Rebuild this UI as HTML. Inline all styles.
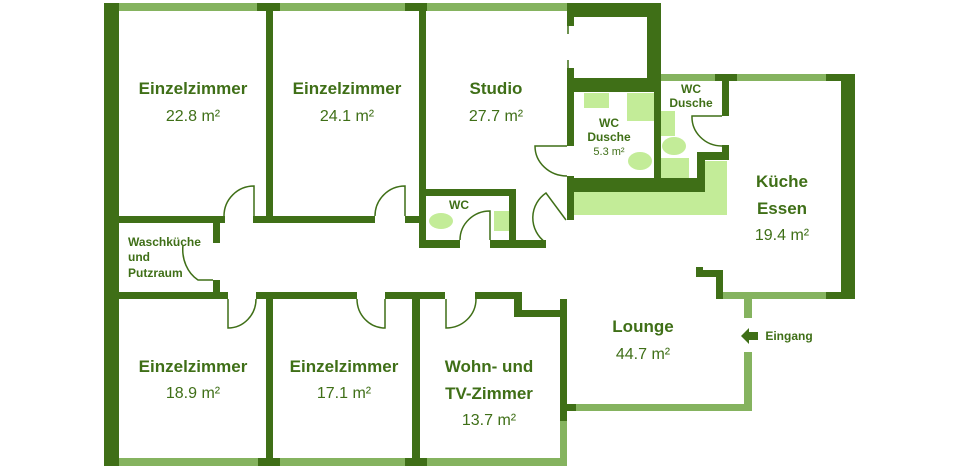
<!DOCTYPE html>
<html><head><meta charset="utf-8"><style>
html,body{margin:0;padding:0;background:#fff}
svg{display:block}
text{font-family:"Liberation Sans",sans-serif;fill:#3f6f17;text-anchor:middle}
.b{font-weight:bold}
</style></head><body>
<svg width="959" height="470" viewBox="0 0 959 470" xmlns="http://www.w3.org/2000/svg">
<g fill="#c3ec98">
<rect x="574" y="192" width="153" height="23"/>
<rect x="705" y="161" width="22" height="31"/>
<rect x="584" y="93" width="25" height="15"/>
<rect x="627" y="93" width="27" height="28"/>
<ellipse cx="640" cy="161" rx="12" ry="9"/>
<rect x="661" y="111" width="14" height="25"/>
<ellipse cx="674" cy="146" rx="12" ry="9"/>
<rect x="661" y="158" width="28" height="27"/>
<rect x="494" y="211" width="15" height="20"/>
<ellipse cx="441" cy="221" rx="12" ry="8"/>
</g>
<g fill="#85b35f">
<rect x="118" y="3" width="449" height="8"/>
<rect x="661" y="74" width="180" height="7"/>
<rect x="716" y="292" width="125" height="7"/>
<rect x="744" y="299" width="8" height="19"/>
<rect x="744" y="352" width="8" height="59"/>
<rect x="567" y="404" width="185" height="7"/>
<rect x="560" y="421" width="7" height="45"/>
<rect x="104" y="458" width="463" height="8"/>
</g>
<g fill="#3f6f17">
<rect x="104" y="3" width="15" height="463"/>
<rect x="257" y="3" width="23" height="8"/>
<rect x="405" y="3" width="22" height="8"/>
<rect x="266" y="3" width="7" height="220"/>
<rect x="419" y="3" width="7" height="245"/>
<rect x="567" y="3" width="94" height="14"/>
<rect x="567" y="3" width="7" height="23"/>
<rect x="567" y="68" width="7" height="78"/>
<rect x="647" y="3" width="14" height="89"/>
<rect x="567" y="78" width="94" height="14"/>
<rect x="654" y="78" width="7" height="107"/>
<rect x="567" y="176" width="7" height="44"/>
<rect x="567" y="178" width="138" height="14"/>
<rect x="697" y="152" width="8" height="40"/>
<rect x="697" y="152" width="32" height="8"/>
<rect x="722" y="145" width="7" height="15"/>
<rect x="722" y="81" width="7" height="35"/>
<rect x="715" y="74" width="22" height="7"/>
<rect x="826" y="74" width="29" height="7"/>
<rect x="841" y="74" width="14" height="225"/>
<rect x="826" y="292" width="29" height="7"/>
<rect x="696" y="267" width="7" height="10"/>
<rect x="696" y="270" width="27" height="7"/>
<rect x="716" y="270" width="7" height="29"/>
<rect x="118" y="216" width="107" height="7"/>
<rect x="253" y="216" width="122" height="7"/>
<rect x="405" y="216" width="15" height="7"/>
<rect x="213" y="216" width="7" height="27"/>
<rect x="213" y="280" width="7" height="19"/>
<rect x="420" y="189" width="96" height="7"/>
<rect x="509" y="189" width="7" height="59"/>
<rect x="420" y="240" width="40" height="8"/>
<rect x="490" y="240" width="56" height="8"/>
<rect x="118" y="292" width="110" height="7"/>
<rect x="256" y="292" width="101" height="7"/>
<rect x="385" y="292" width="60" height="7"/>
<rect x="475" y="292" width="47" height="7"/>
<rect x="514" y="292" width="8" height="25"/>
<rect x="514" y="310" width="53" height="7"/>
<rect x="560" y="299" width="7" height="122"/>
<rect x="560" y="404" width="16" height="7"/>
<rect x="266" y="292" width="7" height="174"/>
<rect x="412" y="292" width="8" height="174"/>
<rect x="104" y="458" width="15" height="8"/>
<rect x="258" y="458" width="22" height="8"/>
<rect x="405" y="458" width="22" height="8"/>
</g>
<g fill="none" stroke="#3f6f17" stroke-width="1.5">
<path d="M254,216 L254,186 A30,30 0 0 0 224,216"/>
<path d="M405,216 L405,186 A30,30 0 0 0 375,216"/>
<path d="M228,299 L228,328 A28,29 0 0 0 256,299"/>
<path d="M385,299 L385,328 A28,29 0 0 1 357,299"/>
<path d="M446,299 L446,328 A30,29 0 0 0 476,299"/>
<path d="M213,280 L198,280 A30,35 0 0 1 183,245"/>
<path d="M490,240 L490,211 A30,29 0 0 0 460,240"/>
<path d="M567,146 L535,146 A32,30 0 0 0 567,176"/>
<path d="M722,116 L692,116 A30,29 0 0 0 722,146"/>
<path d="M566,220 L546,193 A30,30 0 0 0 545,242"/>
<path d="M568,26 L568,34 M568,60 L568,68"/>
</g>
<polygon points="741,336 749,328 749,332 758,332 758,340 749,340 749,344" fill="#3f6f17"/>
<g font-size="17">
<text x="193" y="94" class="b">Einzelzimmer</text>
<text x="347" y="94" class="b">Einzelzimmer</text>
<text x="496" y="94" class="b">Studio</text>
<text x="782" y="187" class="b">Küche</text>
<text x="782" y="214" class="b">Essen</text>
<text x="643" y="332" class="b">Lounge</text>
<text x="193" y="372" class="b">Einzelzimmer</text>
<text x="344" y="372" class="b">Einzelzimmer</text>
<text x="489" y="372" class="b">Wohn- und</text>
<text x="489" y="399" class="b">TV-Zimmer</text>
</g>
<g font-size="16">
<text x="193" y="121">22.8 m²</text>
<text x="347" y="121">24.1 m²</text>
<text x="496" y="121">27.7 m²</text>
<text x="782" y="240">19.4 m²</text>
<text x="643" y="359">44.7 m²</text>
<text x="193" y="398">18.9 m²</text>
<text x="344" y="398">17.1 m²</text>
<text x="489" y="425">13.7 m²</text>
</g>
<g font-size="12">
<text x="609" y="127" class="b">WC</text>
<text x="609" y="141" class="b">Dusche</text>
<text x="691" y="93" class="b">WC</text>
<text x="691" y="107" class="b">Dusche</text>
<text x="459" y="209" class="b">WC</text>
<text x="789" y="340" class="b">Eingang</text>
<text x="128" y="246" class="b" style="text-anchor:start">Waschküche</text>
<text x="128" y="261" class="b" style="text-anchor:start">und</text>
<text x="128" y="277" class="b" style="text-anchor:start">Putzraum</text>
</g>
<text x="609" y="155" font-size="11">5.3 m²</text>
</svg>
</body></html>
